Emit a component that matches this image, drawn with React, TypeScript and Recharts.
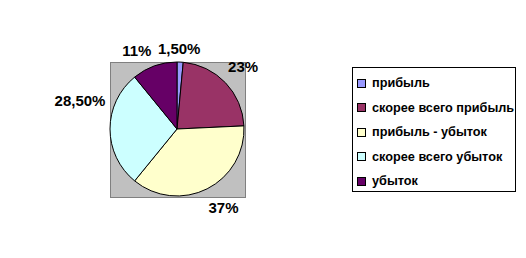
import { PieChart, Pie, Cell, Legend } from 'recharts';

const categories = ['прибыль', 'скорее всего прибыль', 'прибыль - убыток', 'скорее всего убыток', 'убыток'];
const shares = [1.5, 23, 37, 28.5, 11];
const shareLabels = ['1,50%', '23%', '37%', '28,50%', '11%'];
const colors = ['#9999FF', '#993366', '#FFFFCC', '#CCFFFF', '#660066'];

const data = categories.map((name, i) => ({ name, value: shares[i], label: shareLabels[i], color: colors[i] }));

// hand-dragged label offsets from the radial spot, as in the original sheet
const labelNudge = [[-2, 9], [1, 0], [6, -2], [-7, -29], [-10, 6]];

const RADIAN = Math.PI / 180;
const FONT = "'Liberation Sans', Arial, sans-serif";

function renderLabel(props: any) {
  const { cx, cy, midAngle, outerRadius, index } = props;
  const r = outerRadius + 23;
  const x = cx + r * Math.cos(-midAngle * RADIAN) + labelNudge[index][0];
  const y = cy + r * Math.sin(-midAngle * RADIAN) + labelNudge[index][1];
  return (
    <text x={x} y={y} textAnchor="middle" dominantBaseline="central" fill="#000" fontSize={15} fontWeight="bold" fontFamily={FONT}>
      {data[index].label}
    </text>
  );
}

// legend in the sheet order, not the sorted payload
function LegendBox() {
  return (
    <div style={{ border: '1px solid #000', background: '#fff', width: 164, height: 125, boxSizing: 'border-box', padding: '3px 0 0 4px', fontFamily: FONT, fontSize: 12.7, fontWeight: 'bold' }}>
      {data.map(d => (
        <div key={d.name} style={{ display: 'flex', alignItems: 'center', height: 24.5, whiteSpace: 'nowrap' }}>
          <span style={{ width: 7, height: 7, border: '1px solid #000', background: d.color, marginRight: 6, flexShrink: 0 }} />
          <span>{d.name}</span>
        </div>
      ))}
    </div>
  );
}

export default function App() {
  return (
    <div style={{ position: 'absolute', left: 0, top: 0, width: 526, height: 258, background: '#fff' }}>
      <div style={{ position: 'absolute', left: 110, top: 62, width: 134, height: 134, background: '#C0C0C0', border: '1px solid #808080' }} />
      <div style={{ position: 'absolute', left: 0, top: 0 }}>
        <PieChart width={526} height={258} margin={{ top: 0, right: 0, bottom: 0, left: 0 }}>
          <Pie
            data={data}
            dataKey="value"
            nameKey="name"
            cx={177}
            cy={129}
            outerRadius={67}
            startAngle={90}
            endAngle={-270}
            stroke="#000"
            strokeWidth={1}
            label={renderLabel}
            labelLine={false}
            isAnimationActive={false}
          >
            {data.map(d => (
              <Cell key={d.name} fill={d.color} />
            ))}
          </Pie>
          <Legend
            layout="vertical"
            verticalAlign="top"
            align="right"
            content={<LegendBox />}
            wrapperStyle={{ position: 'absolute', left: 352, top: 67, width: 164, height: 125 }}
          />
        </PieChart>
      </div>
    </div>
  );
}
